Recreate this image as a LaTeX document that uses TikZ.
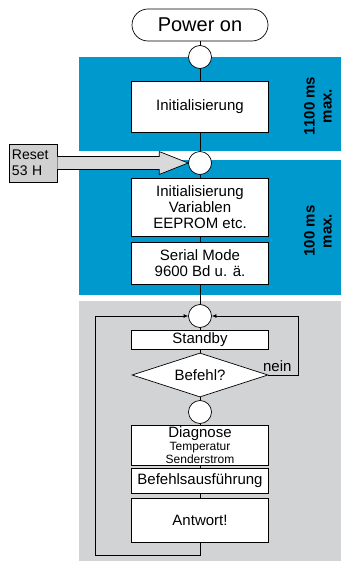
\documentclass[tikz,border=0pt]{standalone}
\usepackage{fontspec}
\setmainfont{Liberation Sans}
\usetikzlibrary{arrows.meta,positioning,shapes.geometric,calc}
\definecolor{phaseblue}{RGB}{0,153,206}
\definecolor{loopgrey}{RGB}{210,211,213}
\definecolor{resetgrey}{RGB}{208,208,208}

\begin{document}
\begin{tikzpicture}[
  x=1pt,y=-1pt,
  line width=0.7pt,
  stepbox/.style={draw,fill=white,minimum width=137pt,align=center,inner sep=1pt,
                  font=\fontsize{15}{16}\selectfont},
  joint/.style={circle,draw,fill=white,minimum size=23pt,inner sep=0pt},
  decision/.style={diamond,draw,fill=white,minimum width=136pt,minimum height=44pt,
                   inner sep=0pt,shape aspect=3,font=\fontsize{15}{16}\selectfont},
  timing/.style={rotate=90,align=center,font=\bfseries\fontsize{15}{17}\selectfont},
  >={Latex[length=4.5pt,width=4pt]}
]
\useasboundingbox (0,0) rectangle (341,561);
% phases
\fill[phaseblue] (79,57) rectangle (341,151);
\fill[phaseblue] (79,160) rectangle (341,295);
\fill[loopgrey] (79,301) rectangle (341,561);

\node[draw,fill=white,rounded corners=16pt,minimum width=136pt,minimum height=32pt,
      font=\fontsize{20}{22}\selectfont] (poweron) at (200,25) {Power on};
\node[joint] (j1) at (200,57) {};
\node[stepbox,minimum height=51pt] (init) at (200,106.5) {Initialisierung};
\node[joint] (j2) at (200,163) {};
\node[stepbox,minimum height=58pt] (vars) at (200,207) {Initialisierung\\Variablen\\EEPROM etc.};
\node[stepbox,minimum height=42pt] (serial) at (200,263) {Serial Mode\\9600 Bd u. ä.};
\node[joint] (j3) at (200,316) {};
\node[stepbox,minimum height=19pt] (standby) at (200,339.5) {Standby};
\node[decision] (query) at (200,375) {Befehl?};
\node[joint] (j4) at (200,412) {};
\node[stepbox,minimum height=40pt] (diag) at (200,445)
  {Diagnose\\[-3pt]\fontsize{12}{10}\selectfont Temperatur\\[-3pt]\fontsize{12}{10}\selectfont Senderstrom};
\node[stepbox,minimum height=25pt] (exec) at (200,480.5) {Befehlsausführung};
\node[stepbox,minimum height=44pt] (answer) at (200,520) {Antwort!};

\node[timing] (t1) at (318,106) {1100 ms\\max.};
\node[timing] (t2) at (318,231) {100 ms\\max.};

\node[draw,fill=resetgrey,align=left,text width=42pt,inner sep=3pt,minimum height=38pt,
      font=\fontsize{14}{16}\selectfont] (reset) at (33,163) {Reset\\53 H};
\draw[fill=resetgrey!80!white] ($(reset.east)+(0,-6.5)$) -- ($(j2.west)+(-29,-6.5)$)
  -- ($(j2.west)+(-29,-11.5)$) -- (j2.west) -- ($(j2.west)+(-29,11.5)$)
  -- ($(j2.west)+(-29,6.5)$) -- ($(reset.east)+(0,6.5)$);

\draw (poweron) -- (j1);
\draw (j1) -- (init);
\draw (init) -- (j2);
\draw (j2) -- (vars);
\draw (vars) -- (serial);
\draw (serial) -- (j3);
\draw (j3) -- (standby);
\draw (standby) -- (query);
\draw (query) -- (j4);
\draw (j4) -- (diag);
\draw (diag) -- (exec);
\draw (exec) -- (answer);

\coordinate (noturn) at (298,375);
\coordinate (backturn) at (95,555);
\draw[->] (query.east) -- node[above,pos=0.3,font=\fontsize{15}{16}\selectfont] {nein} (noturn) |- (j3.east);
\draw[->] (answer.south) |- (backturn) |- (j3.west);
\end{tikzpicture}
\end{document}
